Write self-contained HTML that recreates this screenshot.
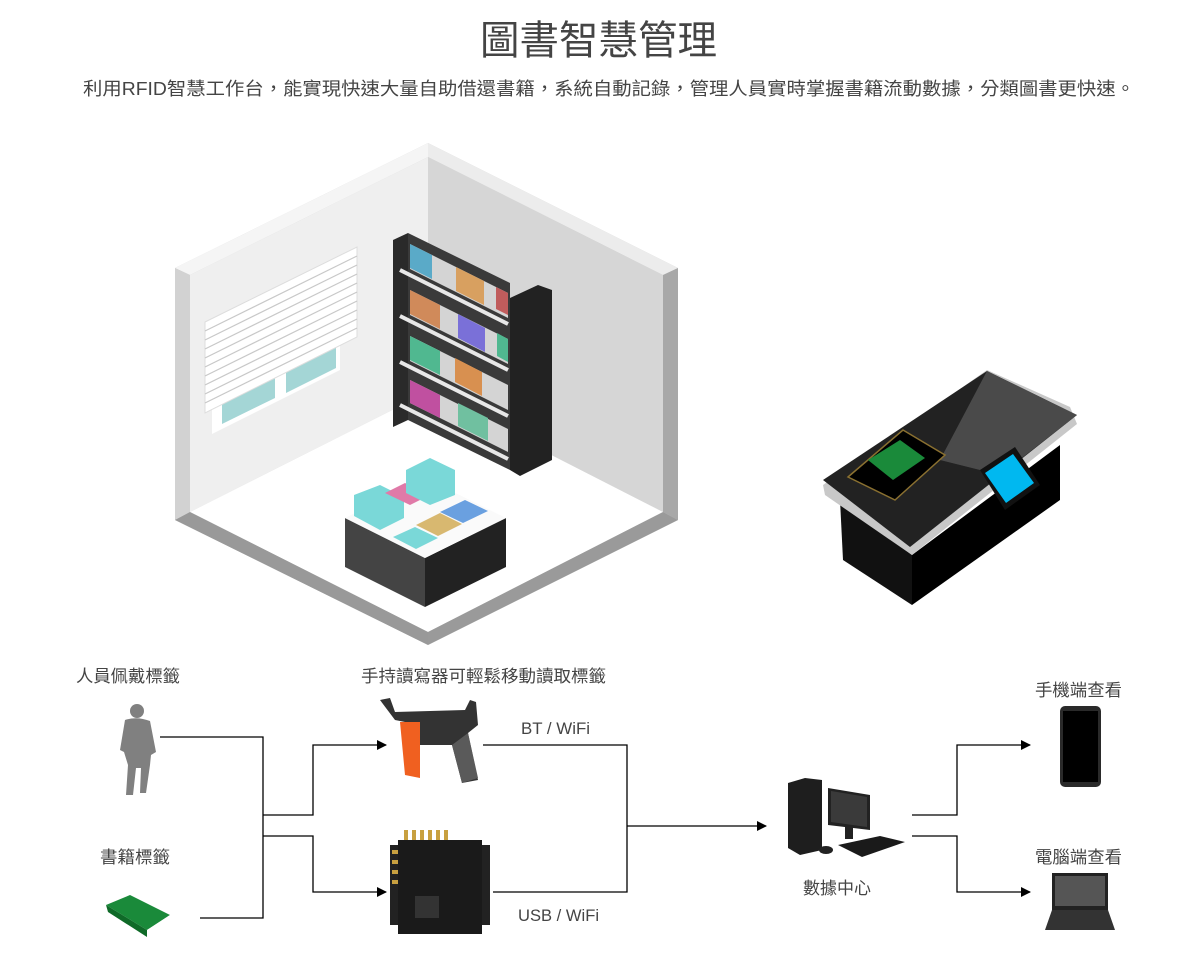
<!DOCTYPE html>
<html><head><meta charset="utf-8"><style>
html,body{margin:0;padding:0;background:#fff;width:1200px;height:954px;overflow:hidden}
svg{display:block}
text{font-family:"Liberation Sans","Noto Sans CJK TC",sans-serif;fill:#444}
</style></head><body>
<svg width="1200" height="954" viewBox="0 0 1200 954" xmlns="http://www.w3.org/2000/svg">
<defs>
<marker id="ar" markerWidth="10" markerHeight="10" refX="9" refY="5" orient="auto" markerUnits="userSpaceOnUse">
<path d="M0,0 L10,5 L0,10 z" fill="#000"/></marker>
</defs>
<text x="480" y="54" font-size="40" textLength="237" lengthAdjust="spacingAndGlyphs" fill="#555">圖書智慧管理</text>
<text x="83" y="95" font-size="18" textLength="1052" lengthAdjust="spacingAndGlyphs" fill="#555">利用RFID智慧工作台，能實現快速大量自助借還書籍，系統自動記錄，管理人員實時掌握書籍流動數據，分類圖書更快速。</text>

<!-- room -->
<polygon points="175,520 428,645 678,520 678,268 428,143 175,268" fill="#cfcfcf"/>
<polygon points="175,268 428,143 428,157 190,275" fill="#f5f5f5"/>
<polygon points="428,143 678,268 663,275 428,157" fill="#ececec"/>
<polygon points="175,268 190,275 190,512 175,520" fill="#d2d2d2"/>
<polygon points="663,275 678,268 678,520 663,512" fill="#a8a8a8"/>
<polygon points="190,275 428,157 428,392 190,512" fill="#efefef"/>
<polygon points="428,157 663,275 663,512 428,392" fill="#d6d6d6"/>
<polygon points="190,512 428,392 663,512 428,632" fill="#fff"/>
<polygon points="175,520 190,512 428,632 428,645" fill="#999"/>
<polygon points="428,632 663,512 678,520 428,645" fill="#9a9a9a"/>
<!-- window -->
<polygon points="212,390 340,326 340,370 212,434" fill="#fff"/>
<polygon points="222,400 275,373 275,398 222,424" fill="#a4d6d6"/>
<polygon points="286,368 336,343 336,368 286,393" fill="#a4d6d6"/>
<polygon points="205,322 357,247 357,337 205,413" fill="#fff" stroke="#ddd" stroke-width="1"/>
<g stroke="#c8c8c8" stroke-width="1.2">
<line x1="205" y1="331" x2="357" y2="256"/><line x1="205" y1="340" x2="357" y2="265"/><line x1="205" y1="349" x2="357" y2="274"/><line x1="205" y1="358" x2="357" y2="283"/><line x1="205" y1="367" x2="357" y2="292"/><line x1="205" y1="376" x2="357" y2="301"/><line x1="205" y1="385" x2="357" y2="310"/><line x1="205" y1="394" x2="357" y2="319"/><line x1="205" y1="403" x2="357" y2="328"/>
</g>
<!-- bookcase -->
<polygon points="393,240 408,233 408,420 393,427" fill="#2a2a2a"/>
<polygon points="408,233 510,283 510,470 408,420" fill="#3a3a3a"/>
<polygon points="510,298 538,285 552,290 552,460 520,476 510,470" fill="#222"/>
<g>
<polygon points="410,244 508,293 508,318 410,269" fill="#d4d4d4"/>
<polygon points="410,244 432,255 432,279 410,268" fill="#5aaac8"/>
<polygon points="456,267 484,281 484,305 456,291" fill="#d8a060"/>
<polygon points="496,287 508,293 508,315 496,309" fill="#c05c5c"/>
<polygon points="410,290 508,339 508,364 410,315" fill="#d4d4d4"/>
<polygon points="410,290 440,305 440,329 410,314" fill="#d08a5a"/>
<polygon points="458,314 485,328 485,352 458,338" fill="#7a70d8"/>
<polygon points="497,333 508,339 508,362 497,356" fill="#50b890"/>
<polygon points="410,336 440,351 440,375 410,360" fill="#50b890"/>
<polygon points="410,336 508,385 508,410 410,361" fill="#d4d4d4"/>
<polygon points="410,336 440,351 440,375 410,360" fill="#50b890"/>
<polygon points="455,358 482,372 482,396 455,382" fill="#d89050"/>
<polygon points="410,380 508,429 508,452 410,403" fill="#d4d4d4"/>
<polygon points="410,380 440,395 440,418 410,403" fill="#c050a0"/>
<polygon points="458,403 488,418 488,441 458,426" fill="#70c0a0"/>
<g stroke="#e8e8e8" stroke-width="4">
<line x1="400" y1="270" x2="508" y2="324"/><line x1="400" y1="316" x2="508" y2="370"/><line x1="400" y1="362" x2="508" y2="416"/><line x1="400" y1="405" x2="508" y2="459"/>
</g>
</g>
<!-- table -->
<polygon points="345,518 425,558 425,607 345,567" fill="#444"/>
<polygon points="425,558 506,518 506,567 425,607" fill="#222"/>
<polygon points="345,518 425,478 506,518 425,558" fill="#fafafa"/>
<polygon points="354,495 380,485 404,497 404,518 380,530 354,516" fill="#7ad8d8"/>
<polygon points="385,493 405,483 430,495 410,505" fill="#e07aa8"/>
<polygon points="406,470 430,458 455,470 455,495 430,505 406,493" fill="#7ad8d8"/>
<polygon points="440,512 465,500 488,511 463,523" fill="#6aa0e0"/>
<polygon points="416,525 440,513 462,524 438,536" fill="#d8b870"/>
<polygon points="393,537 415,527 438,538 416,549" fill="#7ad8d8"/>

<!-- kiosk -->
<polygon points="840,500 912,555 912,605 843,560" fill="#111"/>
<polygon points="912,555 1060,445 1060,500 912,605" fill="#000"/>
<polygon points="823,485 987,370 1070,407 1077,424 912,555 825,495" fill="#c8c8c8"/>
<polygon points="823,480 987,371 1077,415 910,547" fill="#222"/>
<polygon points="940,460 987,371 1077,415 1000,475" fill="#555" opacity="0.8"/>
<polygon points="848,477 903,430 945,455 895,500" fill="#000" stroke="#8a7030" stroke-width="1.5"/>
<polygon points="868,460 900,440 925,458 893,480" fill="#1a8a3a"/>
<polygon points="980,470 1015,447 1040,485 1005,510" fill="#111"/>
<polygon points="985,473 1013,454 1034,483 1006,503" fill="#00b8f0"/>

<!-- connectors -->
<g stroke="#000" stroke-width="1.3" fill="none">
<polyline points="160,737 263,737 263,918 200,918"/>
<polyline points="263,815 313,815 313,745 386,745" marker-end="url(#ar)"/>
<polyline points="263,836 313,836 313,892 386,892" marker-end="url(#ar)"/>
<polyline points="483,745 627,745 627,892 493,892"/>
<polyline points="627,826 766,826" marker-end="url(#ar)"/>
<polyline points="912,815 957,815 957,745 1030,745" marker-end="url(#ar)"/>
<polyline points="912,836 957,836 957,892 1030,892" marker-end="url(#ar)"/>
</g>

<!-- labels -->
<text x="76" y="682" font-size="17" textLength="104" lengthAdjust="spacingAndGlyphs">人員佩戴標籤</text>
<text x="361" y="682" font-size="17" textLength="245" lengthAdjust="spacingAndGlyphs">手持讀寫器可輕鬆移動讀取標籤</text>
<text x="521" y="734" font-size="17" textLength="69" lengthAdjust="spacingAndGlyphs">BT / WiFi</text>
<text x="100" y="863" font-size="17" textLength="70" lengthAdjust="spacingAndGlyphs">書籍標籤</text>
<text x="518" y="921" font-size="17" textLength="81" lengthAdjust="spacingAndGlyphs">USB / WiFi</text>
<text x="803" y="894" font-size="17" textLength="68" lengthAdjust="spacingAndGlyphs">數據中心</text>
<text x="1035" y="696" font-size="17" textLength="87" lengthAdjust="spacingAndGlyphs">手機端查看</text>
<text x="1035" y="863" font-size="17" textLength="87" lengthAdjust="spacingAndGlyphs">電腦端查看</text>

<!-- person -->
<g fill="#808080">
<circle cx="137" cy="711" r="7"/>
<path d="M125,720 Q137,716 150,721 L156,752 L151,755 L150,765 L146,793 L140,793 L141,768 L136,768 L133,795 L126,795 L128,765 L124,752 L120,750 Z"/>
</g>
<!-- book -->
<polygon points="106,905 130,895 170,915 147,930" fill="#1a8a3a"/>
<polygon points="106,905 147,930 147,937 108,912" fill="#0f6a28"/>
<polygon points="147,930 170,915 170,921 147,937" fill="#fff"/>
<!-- handheld -->
<path d="M380,700 L390,698 L395,712 L465,710 L470,700 L476,702 L478,725 L468,733 L478,780 L462,783 L452,745 L420,745 L420,725 L395,720 Z" fill="#333"/>
<polygon points="400,722 420,722 420,778 405,775" fill="#f06020"/>
<path d="M452,745 L468,733 L478,778 L462,783 Z" fill="#5a5a5a"/>
<!-- reader box -->
<rect x="398" y="840" width="84" height="94" fill="#1a1a1a"/>
<rect x="390" y="845" width="8" height="80" fill="#222"/>
<rect x="482" y="845" width="8" height="80" fill="#222"/>
<g fill="#c8a040"><rect x="404" y="830" width="4" height="10"/><rect x="412" y="830" width="4" height="10"/><rect x="420" y="830" width="4" height="10"/><rect x="428" y="830" width="4" height="10"/><rect x="436" y="830" width="4" height="10"/><rect x="444" y="830" width="4" height="10"/>
<rect x="392" y="850" width="6" height="4"/><rect x="392" y="860" width="6" height="4"/><rect x="392" y="870" width="6" height="4"/><rect x="392" y="880" width="6" height="4"/></g>
<rect x="415" y="896" width="24" height="22" fill="#333"/>
<!-- computer -->
<polygon points="788,783 805,778 822,780 822,850 800,855 788,848" fill="#1e1e1e"/>
<polygon points="828,788 870,795 870,830 828,825" fill="#222"/>
<polygon points="831,791 867,797 867,827 831,822" fill="#3a3a3a"/>
<rect x="845" y="827" width="8" height="12" fill="#222"/>
<polygon points="838,845 880,836 905,842 862,857" fill="#1a1a1a"/>
<ellipse cx="826" cy="850" rx="7" ry="4" fill="#222"/>
<!-- phone -->
<rect x="1060" y="706" width="41" height="81" rx="5" fill="#2a2a2a"/>
<rect x="1063" y="711" width="35" height="71" fill="#000"/>
<!-- laptop -->
<polygon points="1052,873 1108,873 1108,910 1052,910" fill="#222"/>
<rect x="1055" y="876" width="50" height="30" fill="#555"/>
<polygon points="1052,910 1108,910 1115,930 1045,930" fill="#333"/>
</svg>
</body></html>
